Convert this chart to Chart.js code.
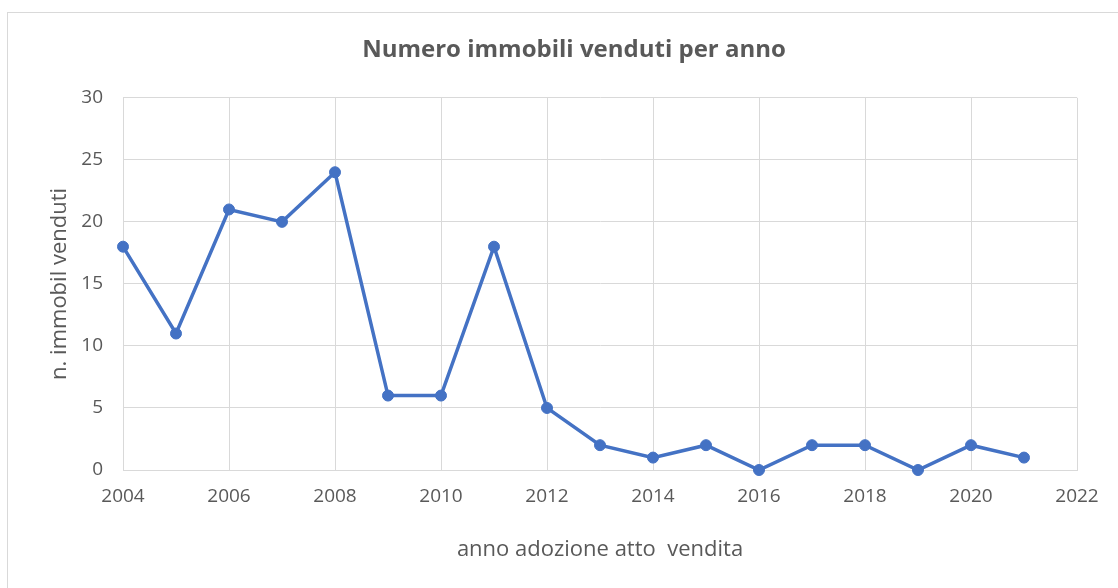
<!DOCTYPE html>
<html lang="it">
<head>
<meta charset="utf-8">
<title>Numero immobili venduti per anno</title>
<script src="https://cdn.jsdelivr.net/npm/chart.js@4/dist/chart.umd.min.js"></script>
<style>
    html, body {
        margin: 0;
        padding: 0;
        background: #fff;
        overflow: hidden;
    }
    #frame {
        position: absolute;
        left: 7px;
        top: 12px;
        width: 1140px;
        height: 600px;
        border: 1px solid #d9d9d9;
    }
    #salesChart {
        position: absolute;
        left: 0;
        top: 0;
    }
</style>
</head>
<body>
<div id="frame"></div>
<canvas id="salesChart" width="1148" height="588"></canvas>
<script>
// Vendite per anno
const years = [2004, 2005, 2006, 2007, 2008, 2009, 2010, 2011, 2012,
    2013, 2014, 2015, 2016, 2017, 2018, 2019, 2020, 2021];
const sold = [18, 11, 21, 20, 24, 6, 6, 18, 5, 2, 1, 2, 0, 2, 2, 0, 2, 1];

// Assi
const xTicks = [2004, 2006, 2008, 2010, 2012, 2014, 2016, 2018, 2020, 2022];
const yTicks = [0, 5, 10, 15, 20, 25, 30];

const textColor = '#595959';
const gridColor = '#d9d9d9';
const lineBlue = '#4472c4';
const fontFamily = '"Open Sans", "Segoe UI", sans-serif';

const points = years.map((y, i) => ({ x: y, y: sold[i] }));

const ctx = document.getElementById('salesChart').getContext('2d');
new Chart(ctx, {
    type: 'line',
    data: {
        datasets: [{
            label: 'Immobili venduti',
            data: points,
            borderColor: lineBlue,
            backgroundColor: lineBlue,
            borderWidth: 3.5,
            pointRadius: 5.5,
            pointHoverRadius: 5.5,
            pointBorderWidth: 1,
            tension: 0,
            clip: false,
        }],
    },
    options: {
        responsive: false,
        animation: false,
        layout: { padding: 0 },
        plugins: {
            legend: { display: false },
            tooltip: { enabled: false },
            title: {
                display: true,
                text: 'Numero immobili venduti per anno',
                color: textColor,
                font: { family: fontFamily, size: 24, weight: 'bold' },
                padding: { top: 36, bottom: 33 },
            },
        },
        scales: {
            x: {
                type: 'linear',
                min: xTicks[0],
                max: xTicks[xTicks.length - 1],
                afterBuildTicks: (scale) => {
                    scale.ticks = xTicks.map((v) => ({ value: v }));
                },
                afterFit: (scale) => { scale.height = 118; },
                grid: { color: gridColor, lineWidth: 1, drawTicks: false },
                border: { color: gridColor, width: 1 },
                ticks: {
                    color: textColor,
                    font: { family: fontFamily, size: 19 },
                    padding: 15,
                    maxRotation: 0,
                    callback: (v) => String(v),
                },
                title: {
                    display: true,
                    text: 'anno adozione atto  vendita',
                    color: textColor,
                    font: { family: fontFamily, size: 22 },
                    padding: 25,
                },
            },
            y: {
                position: 'left',
                min: yTicks[0],
                max: yTicks[yTicks.length - 1],
                afterBuildTicks: (scale) => {
                    scale.ticks = yTicks.map((v) => ({ value: v }));
                },
                afterFit: (scale) => { scale.width = 123; },
                grid: { color: gridColor, lineWidth: 1, drawTicks: false },
                border: { color: gridColor, width: 1 },
                ticks: {
                    color: textColor,
                    font: { family: fontFamily, size: 19 },
                    padding: 20,
                },
                title: {
                    display: true,
                    text: 'n. immobil venduti',
                    color: textColor,
                    font: { family: fontFamily, size: 22 },
                    padding: 47,
                },
            },
            // spazio vuoto a destra del grafico
            spacer: {
                position: 'right',
                display: true,
                afterFit: (scale) => { scale.width = 71; },
                grid: { display: false },
                border: { display: false },
                ticks: { display: false },
            },
        },
    },
});
</script>
</body>
</html>
